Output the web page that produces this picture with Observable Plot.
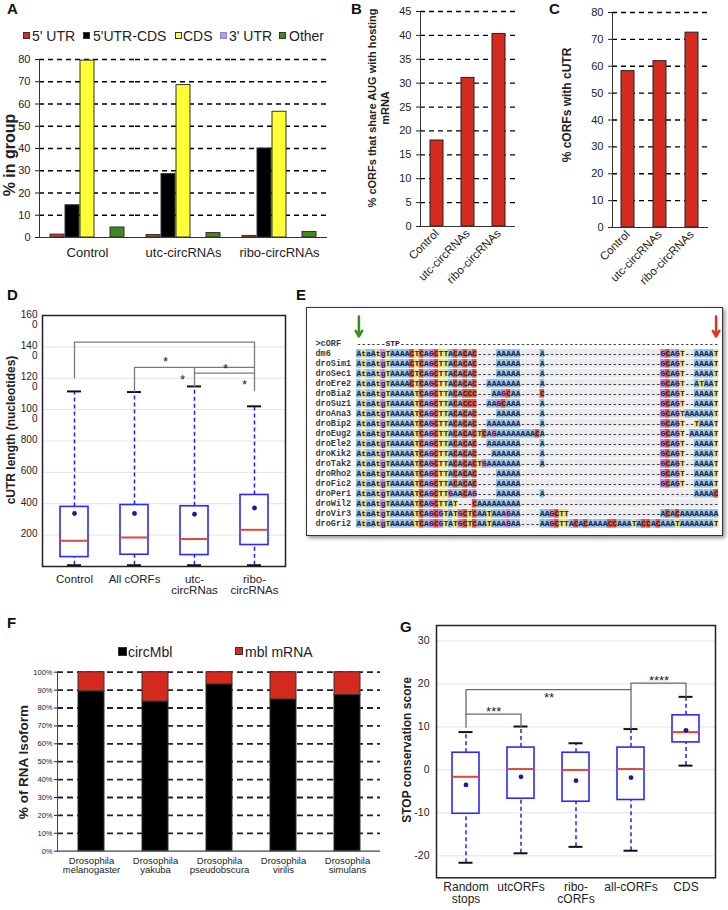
<!DOCTYPE html>
<html><head><meta charset="utf-8">
<script src="https://cdn.jsdelivr.net/npm/d3@7"></script>
<script src="https://cdn.jsdelivr.net/npm/@observablehq/plot@0.6"></script>
<style>
body{margin:0;background:#fff;}
#root{position:relative;width:728px;height:910px;overflow:hidden;font-family:"Liberation Sans",Arial,sans-serif;color:#222;background:#fff;}
.plbl{position:absolute;font-weight:bold;font-size:15px;color:#111;line-height:18px;}
.vlab{position:absolute;font-weight:bold;white-space:pre;text-align:center;transform:translate(-50%,-50%) rotate(-90deg);line-height:1.15;color:#222;}
.leg{position:absolute;white-space:nowrap;line-height:16px;color:#222;}
.sq{position:absolute;box-sizing:border-box;border:1px solid #333;}
svg{overflow:visible;}
</style></head><body><div id="root"></div>
<script>
// ---------- DATA ----------
// Panel A
const aGroups = ["Control", "utc-circRNAs", "ribo-circRNAs"];
const aCats = ["5' UTR", "5'UTR-CDS", "CDS", "3' UTR", "Other"];
const aUTR5 = [1.3, 1.1, 0.7];
const aUTR5CDS = [14.5, 28.5, 40.0];
const aCDS = [79.5, 68.5, 56.5];
const aUTR3 = [0, 0, 0];
const aOther = [4.5, 2.0, 2.5];
// Panels B, C
const bcCats = ["Control", "utc-circRNAs", "ribo-circRNAs"];
const bValues = [18.0, 31.1, 40.3];
const cValues = [58.2, 61.9, 72.5];
// Panel D
const dNames = ["Control", "All cORFs", "utc-circRNas", "ribo-circRNAs"];
const dLabels = ["Control", "All cORFs", "utc-\ncircRNas", "ribo-\ncircRNAs"];
const dQ1 = [60, 75, 73, 137];
const dQ3 = [380, 392, 384, 456];
const dMed = [164, 185, 175, 234];
const dMean = [338, 338, 333, 373];
const dHi = [1116, 1112, 1148, 1021];
const dLo = [8, 8, 8, 8];
const dYTicks = [200, 400, 600, 800, 1000, 1200, 1400, 1600];
// Panel E (alignment)
const eRows = [">cORF","dm6","droSim1","droSec1","droEre2","droBia2","droSuz1","droAna3","droBip2","droEug2","droEle2","droKik2","droTak2","droRho2","droFic2","droPer1","droWil2","droVir3","droGri2"];
const gap = n => "-".repeat(n);
const eSeqs = [
  "------STP" + gap(66),
  "AtaAtgTAAAACTCAGCTTACACAC" + "----AAAAA" + "----A" + gap(24) + "GCAGT--AAAAT",
  "AtaAtgTAAAACTCAGCTTACACAC" + "----AAAAA" + "----A" + gap(24) + "GCAGT--AAAAT",
  "AtaAtgTAAAACTCAGCTTACACAC" + "----AAAAA" + "----A" + gap(24) + "GCAGT--AAAAT",
  "AtaAtgTAAAACTCAGCTTACACAC" + "--AAAAAAA" + "----A" + gap(24) + "GCAGT--ATAAT",
  "AtaAtgTAAAAATCAGCTTACACCC" + "---AAGCAA" + "----C" + gap(24) + "GCAGT--AAAAT",
  "AtaAtgTAAAAATCAGCTTACACCC" + "--AAGCAAA" + "----A" + gap(24) + "GCAGT--AAAAT",
  "AtaAtgTAAAAATCAGCTTACACAC" + "----AAAAA" + "----A" + gap(24) + "GCAGTAAAAAAT",
  "AtaAtgTAAAAATCAGCTTACACAC" + "--AAAAAAA" + "----A" + gap(24) + "GCAGT--TAAAT",
  "AtaAtgTAAAAATCAGCTTACACAC" + "TCAGAAAAAAAACA" + gap(24) + "GCAGT-AAAAAT",
  "AtaAtgTAAAAATCAGCTTACACAC" + "--AAAAAAA" + "----A" + gap(24) + "GCAGT--AAAAT",
  "AtaAtgTAAAAATCAGCTTACACAC" + "---AAAAAA" + "----A" + gap(24) + "GCAGT--AAAAT",
  "AtaAtgTAAAAATCAGCTTACACAC" + "TGAAAAAAA" + "----A" + gap(24) + "GCAGT--AAAAT",
  "AtaAtgTAAAAATCAGCTTACACAC" + "----AAAAA" + gap(29) + "GCAGT--AAAAT",
  "AtaAtgTAAAAATCAGCTTACACAC" + "----AAAAA" + gap(29) + "GCAGT--AAAAT",
  "AtaAtgTAAAAATCAGCTTGAACAG" + "----AAAAA" + "----A" + gap(31) + "AAAAC",
  "AtaAtgTAAAAATCAGCTTAT" + "---" + "CAAAAAAAAA" + gap(41),
  "AtaAtgTAAAAATCAGCGTATGCTCAATAAAGAA" + "----AAGCTT" + gap(19) + "ACACAAAAAAAA",
  "AtaAtgTAAAAATCAGCGTATGCTCAATAAAGAA" + "----" + "AAGCTTACACAAAACCAAATACCACAAATAAAAAAAT"
];
const eArrowCols = [0, 74];
// Panel F
const fSpecies = ["Drosophila melanogaster", "Drosophila yakuba", "Drosophila pseudobscura", "Drosophila virilis", "Drosophila simulans"];
const fLabels = ["Drosophila\nmelanogaster", "Drosophila\nyakuba", "Drosophila\npseudobscura", "Drosophila\nvirilis", "Drosophila\nsimulans"];
const fIso = ["circMbl", "mbl mRNA"];
const fCirc = [89.3, 83.6, 93.2, 84.8, 87.2];
const fMbl = [10.7, 16.4, 6.8, 15.2, 12.8];
// Panel G
const gNames = ["Random stops", "utcORFs", "ribo-cORFs", "all-cORFs", "CDS"];
const gLabels = ["Random\nstops", "utcORFs", "ribo-\ncORFs", "all-cORFs", "CDS"];
const gQ1 = [-10.2, -6.7, -7.4, -7.0, 6.4];
const gQ3 = [4.0, 5.2, 4.0, 5.2, 12.7];
const gMed = [-1.6, 0.2, 0.0, 0.2, 8.8];
const gMean = [-3.5, -1.6, -2.5, -1.8, 9.2];
const gHi = [8.8, 10.1, 6.2, 9.5, 17.0];
const gLo = [-21.6, -19.4, -17.9, -18.8, 1.0];
const gYTicks = [-20, -10, 0, 10, 20, 30];

// ---------- HELPERS ----------
const SANS = "Liberation Sans, Arial, Helvetica, sans-serif";
const MONO = "Liberation Mono, Courier New, monospace";
const root = document.getElementById("root");
function mount(node, x, y) { node.style.position = "absolute"; node.style.left = x + "px"; node.style.top = y + "px"; root.appendChild(node); return node; }
function div(cls, text, x, y, style) { const d = document.createElement("div"); d.className = cls; if (text != null) d.textContent = text; Object.assign(d.style, style || {}); return mount(d, x, y); }
function vlabel(text, cx, cy, size) { const d = div("vlab", text, cx, cy, {fontSize: size + "px"}); return d; }
const baseStyle = {fontFamily: SANS, fontSize: "11px", color: "#222", background: "transparent", overflow: "visible"};
const RED = "#d52b1e";

// ---------- PANEL LETTERS ----------
div("plbl", "A", 7, 0); div("plbl", "B", 351, 0); div("plbl", "C", 549, 0);
div("plbl", "D", 7, 286); div("plbl", "E", 296, 286); div("plbl", "F", 7, 614); div("plbl", "G", 400, 618);

// ---------- PANEL A ----------
const aColors = ["#d8301f", "#000000", "#ffff33", "#b59ce0", "#3f8a1d"];
const aData = [];
aGroups.forEach((g, i) => {
  [aUTR5, aUTR5CDS, aCDS, aUTR3, aOther].forEach((arr, j) => { if (arr[i] > 0) aData.push({group: g, cat: aCats[j], value: arr[i]}); });
});
const plotA = Plot.plot({
  width: 335, height: 230, marginLeft: 38, marginRight: 7, marginTop: 19, marginBottom: 33,
  style: baseStyle,
  fx: {domain: aGroups, padding: 0, label: null},
  x: {domain: aCats, paddingInner: 0.05, paddingOuter: 0.7, axis: null},
  y: {domain: [0, 80], label: null},
  color: {domain: aCats, range: aColors},
  marks: [
    Plot.ruleY(d3.range(10, 81, 10), {stroke: "#000", strokeWidth: 1.3, strokeDasharray: "5,4"}),
    Plot.barY(aData, {fx: "group", x: "cat", y: "value", fill: "cat", stroke: "#333", strokeWidth: 1}),
    Plot.ruleY([0], {stroke: "#333", strokeWidth: 1.2}),
    Plot.frame({anchor: "left", facetAnchor: "left", stroke: "#333"}),
    Plot.axisY({ticks: d3.range(0, 81, 10), tickSize: 4, tickPadding: 5, fontSize: 11, label: null}),
    Plot.axisFx({anchor: "bottom", tickSize: 0, tickPadding: 10, fontSize: 13, label: null})
  ]
});
mount(plotA, 0, 40);
// legend A
const aLegX = [23, 83, 175, 220, 279];
const aLegTX = [32, 93, 183, 229, 289];
aCats.forEach((c, i) => {
  div("sq", null, aLegX[i], 32, {width: "7px", height: "7px", background: aColors[i], borderColor: i === 3 ? "#9a88c8" : "#333"});
  div("leg", c, aLegTX[i], 28, {fontSize: "14px"});
});
vlabel("% in group", 10, 155, 16);

// ---------- PANELS B & C ----------
function simpleBars(values, yMax, step, W, mL, mR, mT, mB, H) {
  const data = bcCats.map((c, i) => ({cat: c, v: values[i]}));
  return Plot.plot({
    width: W, height: H, marginLeft: mL, marginRight: mR, marginTop: mT, marginBottom: mB,
    style: baseStyle,
    x: {domain: bcCats, paddingInner: 0.59, paddingOuter: 0.295, label: null},
    y: {domain: [0, yMax], label: null},
    marks: [
      Plot.ruleY(d3.range(step, yMax + 0.1, step), {stroke: "#000", strokeWidth: 1.3, strokeDasharray: "5,4"}),
      Plot.barY(data, {x: "cat", y: "v", fill: RED, stroke: "#222", strokeWidth: 1}),
      Plot.ruleY([0], {stroke: "#333", strokeWidth: 1.2}),
      Plot.frame({anchor: "left", stroke: "#333"}),
      Plot.axisY({ticks: d3.range(0, yMax + 0.1, step), tickSize: 4, tickPadding: 5, fontSize: 11, label: null}),
      Plot.axisX({tickRotate: -45, tickSize: 0, tickPadding: 5, fontSize: 11.5, label: null})
    ]
  });
}
mount(simpleBars(bValues, 45, 5, 175, 70, 10, 11, 44, 270), 350, 0);
mount(simpleBars(cValues, 80, 10, 188, 72, 20, 12, 43, 270), 540, 0);
vlabel("% cORFs that share AUG with hosting\nmRNA", 379, 108, 11);
vlabel("% cORFs with cUTR", 568, 105, 12);

// ---------- BOX PLOT HELPER ----------
function boxMarks(S, capInset) {
  return [
    Plot.ruleX(S, {x: "name", y1: "q3", y2: "hi", stroke: "#1f1fff", strokeWidth: 1.5, strokeDasharray: "4,3"}),
    Plot.ruleX(S, {x: "name", y1: "lo", y2: "q1", stroke: "#1f1fff", strokeWidth: 1.5, strokeDasharray: "4,3"}),
    Plot.barY(S, {x: "name", y1: "q1", y2: "q3", fill: "white", stroke: "#2a2aff", strokeWidth: 1.6}),
    Plot.tickY(S, {x: "name", y: "med", stroke: "#e0463a", strokeWidth: 2}),
    Plot.tickY(S, {x: "name", y: "hi", stroke: "#111", strokeWidth: 2, inset: capInset}),
    Plot.tickY(S, {x: "name", y: "lo", stroke: "#111", strokeWidth: 2, inset: capInset}),
    Plot.dot(S, {x: "name", y: "mean", r: 2.4, fill: "#1c1c8a", stroke: "none"})
  ];
}
function star(x, y, s, dx) { return Plot.text([{x, y}], {x: "x", y: "y", text: () => s, dx, dy: 3, fontSize: 13, fill: "#222"}); }
const hyphenFormat = d => (d < 0 ? "-" + Math.abs(d) : String(d));

// ---------- PANEL D ----------
const dS = dNames.map((n, i) => ({name: n, q1: dQ1[i], q3: dQ3[i], med: dMed[i], mean: dMean[i], hi: dHi[i], lo: dLo[i]}));
const dBrackets = [
  {id: 1, x: "Control", y: 1203}, {id: 1, x: "Control", y: 1430}, {id: 1, x: "ribo-circRNAs", y: 1430}, {id: 1, x: "ribo-circRNAs", y: 1122},
  {id: 2, x: "All cORFs", y: 1114}, {id: 2, x: "All cORFs", y: 1269}, {id: 2, x: "ribo-circRNAs", y: 1269},
  {id: 3, x: "utc-circRNas", y: 1148}, {id: 3, x: "utc-circRNas", y: 1262},
  {id: 4, x: "utc-circRNas", y: 1233}, {id: 4, x: "ribo-circRNAs", y: 1233}
];
const plotD = Plot.plot({
  width: 300, height: 320, marginLeft: 42, marginRight: 15, marginTop: 25, marginBottom: 44,
  style: baseStyle,
  x: {domain: dNames, paddingInner: 0.54, paddingOuter: 0.27, label: null},
  y: {domain: [0, 1600], label: null},
  marks: [
    Plot.ruleY(dYTicks, {stroke: "#e2e2e2", strokeWidth: 1}),
    ...boxMarks(dS, 7),
    Plot.line(dBrackets, {x: "x", y: "y", z: "id", stroke: "#7a7a7a", strokeWidth: 1.3}),
    star("All cORFs", 1324, "*", 31),
    star("utc-circRNas", 1281, "*", 31),
    star("utc-circRNas", 1210, "*", -12),
    star("ribo-circRNAs", 1178, "*", -10),
    Plot.frame({stroke: "#222", strokeWidth: 1.5}),
    Plot.axisY({ticks: dYTicks, tickSize: 0, tickPadding: 5, fontSize: 10, lineAnchor: "top", dy: -5,
      tickFormat: d => d >= 1000 ? String(d).slice(0, 3) + "\n" + String(d).slice(3) : String(d), label: null}),
    Plot.axisX({tickSize: 0, tickPadding: 8, fontSize: 11.5, tickFormat: d => dLabels[dNames.indexOf(d)], label: null})
  ]
});
mount(plotD, 0, 290);
vlabel("cUTR length (nucleotides)", 12, 430, 12);

// ---------- PANEL E ----------
div("", null, 306, 307, {width: "415px", height: "227px", border: "1.5px solid #333", boxShadow: "2px 2px 4px rgba(0,0,0,0.45)", background: "#fff"});
const eCells = [];
eRows.forEach((name, r) => {
  const s = eSeqs[r];
  for (let c = 0; c < s.length; c++) eCells.push({row: name, col: c, ch: s[c], nt: s[c].toUpperCase(), head: r === 0});
});
const plotE = Plot.plot({
  width: 428, height: 240, marginLeft: 56, marginRight: 10, marginTop: 4.8, marginBottom: 7.9,
  style: baseStyle,
  x: {type: "band", domain: d3.range(75), padding: 0, axis: null},
  y: {type: "band", domain: ["a0", "a1", "a2", ...eRows], padding: 0, axis: null},
  color: {domain: ["A", "T", "G", "C", "-"], range: ["#8fc1e8", "#ebe37a", "#c98ad8", "#da5a3e", "#ebebeb"]},
  marks: [
    Plot.cell(eCells.filter(d => !d.head), {x: "col", y: "row", fill: "nt", insetTop: 1, insetBottom: 0.3}),
    Plot.text(eCells, {x: "col", y: "row", text: "ch", fontSize: 8, fontWeight: "bold", fontFamily: MONO, fill: "#1f2040"}),
    Plot.text(eRows, {y: d => d, text: d => d, frameAnchor: "left", textAnchor: "start", dx: -41, fontSize: 8.5, fontWeight: "bold", fontFamily: MONO, fill: "#3a3a3a"}),
    Plot.arrow([eArrowCols[0]], {x1: d => d, x2: d => d, y1: () => "a0", y2: () => "a2", stroke: "#3b8c1f", strokeWidth: 2.5, headLength: 9, dy: 3}),
    Plot.arrow([eArrowCols[1]], {x1: d => d, x2: d => d, y1: () => "a0", y2: () => "a2", stroke: "#e0321c", strokeWidth: 2.5, headLength: 9, dy: 3})
  ]
});
mount(plotE, 300, 300);

// ---------- PANEL F ----------
const fData = [];
fSpecies.forEach((s, i) => { fData.push({species: s, iso: fIso[0], value: fCirc[i]}); fData.push({species: s, iso: fIso[1], value: fMbl[i]}); });
const plotF = Plot.plot({
  width: 390, height: 250, marginLeft: 57, marginRight: 10, marginTop: 11.7, marginBottom: 59.3,
  style: baseStyle,
  x: {domain: fSpecies, paddingInner: 0.6, paddingOuter: 0.3, label: null},
  y: {domain: [0, 100], label: null},
  color: {domain: fIso, range: ["#000000", "#d42b1e"]},
  marks: [
    Plot.ruleY(d3.range(10, 101, 10), {stroke: "#222", strokeWidth: 1.8, strokeDasharray: "6,4"}),
    Plot.barY(fData, {x: "species", y: "value", fill: "iso", stroke: "#333", strokeWidth: 1}),
    Plot.ruleY([0], {stroke: "#444", strokeWidth: 1.2}),
    Plot.frame({anchor: "left", stroke: "#444"}),
    Plot.axisY({ticks: d3.range(0, 101, 10), tickFormat: d => d + "%", tickSize: 3, tickPadding: 2, fontSize: 7.5, label: null}),
    Plot.axisX({tickSize: 0, tickPadding: 6, fontSize: 9.5, tickFormat: d => fLabels[fSpecies.indexOf(d)], label: null})
  ]
});
mount(plotF, 0, 660);
div("sq", null, 118, 647, {width: "9px", height: "9px", background: "#000"});
div("leg", "circMbl", 128, 644, {fontSize: "14px"});
div("sq", null, 235, 647, {width: "8px", height: "8px", background: "#d42b1e"});
div("leg", "mbl mRNA", 245, 644, {fontSize: "14px"});
vlabel("% of RNA Isoform", 24, 762, 13.5);

// ---------- PANEL G ----------
const gS = gNames.map((n, i) => ({name: n, q1: gQ1[i], q3: gQ3[i], med: gMed[i], mean: gMean[i], hi: gHi[i], lo: gLo[i]}));
const gBrackets = [
  {id: 1, x: "Random stops", y: 9.9}, {id: 1, x: "Random stops", y: 13}, {id: 1, x: "utcORFs", y: 13}, {id: 1, x: "utcORFs", y: 10.1},
  {id: 2, x: "Random stops", y: 13}, {id: 2, x: "Random stops", y: 18.7}, {id: 2, x: "all-cORFs", y: 18.7},
  {id: 3, x: "all-cORFs", y: 9.5}, {id: 3, x: "all-cORFs", y: 20.2}, {id: 3, x: "CDS", y: 20.2}, {id: 3, x: "CDS", y: 17}
];
const plotG = Plot.plot({
  width: 348, height: 310, marginLeft: 56, marginRight: 13, marginTop: 25, marginBottom: 32.7,
  style: baseStyle,
  x: {domain: gNames, paddingInner: 0.51, paddingOuter: 0.255, label: null},
  y: {domain: [-25.1, 33.6], label: null},
  marks: [
    Plot.ruleY(gYTicks, {stroke: "#e2e2e2", strokeWidth: 1}),
    ...boxMarks(gS, 6.5),
    Plot.line(gBrackets, {x: "x", y: "y", z: "id", stroke: "#6a6a6a", strokeWidth: 1.3}),
    star("Random stops", 14.2, "***", 27.7),
    star("utcORFs", 17.4, "**", 28),
    star("all-cORFs", 21.5, "****", 28),
    Plot.frame({stroke: "#222", strokeWidth: 1.5}),
    Plot.axisY({ticks: gYTicks, tickSize: 0, tickPadding: 7, fontSize: 10.5, tickFormat: hyphenFormat, label: null}),
    Plot.axisX({tickSize: 0, tickPadding: 5, fontSize: 12, tickFormat: d => gLabels[gNames.indexOf(d)], label: null})
  ]
});
mount(plotG, 380, 600);
vlabel("STOP conservation score", 408, 750, 12);
</script></body></html>
